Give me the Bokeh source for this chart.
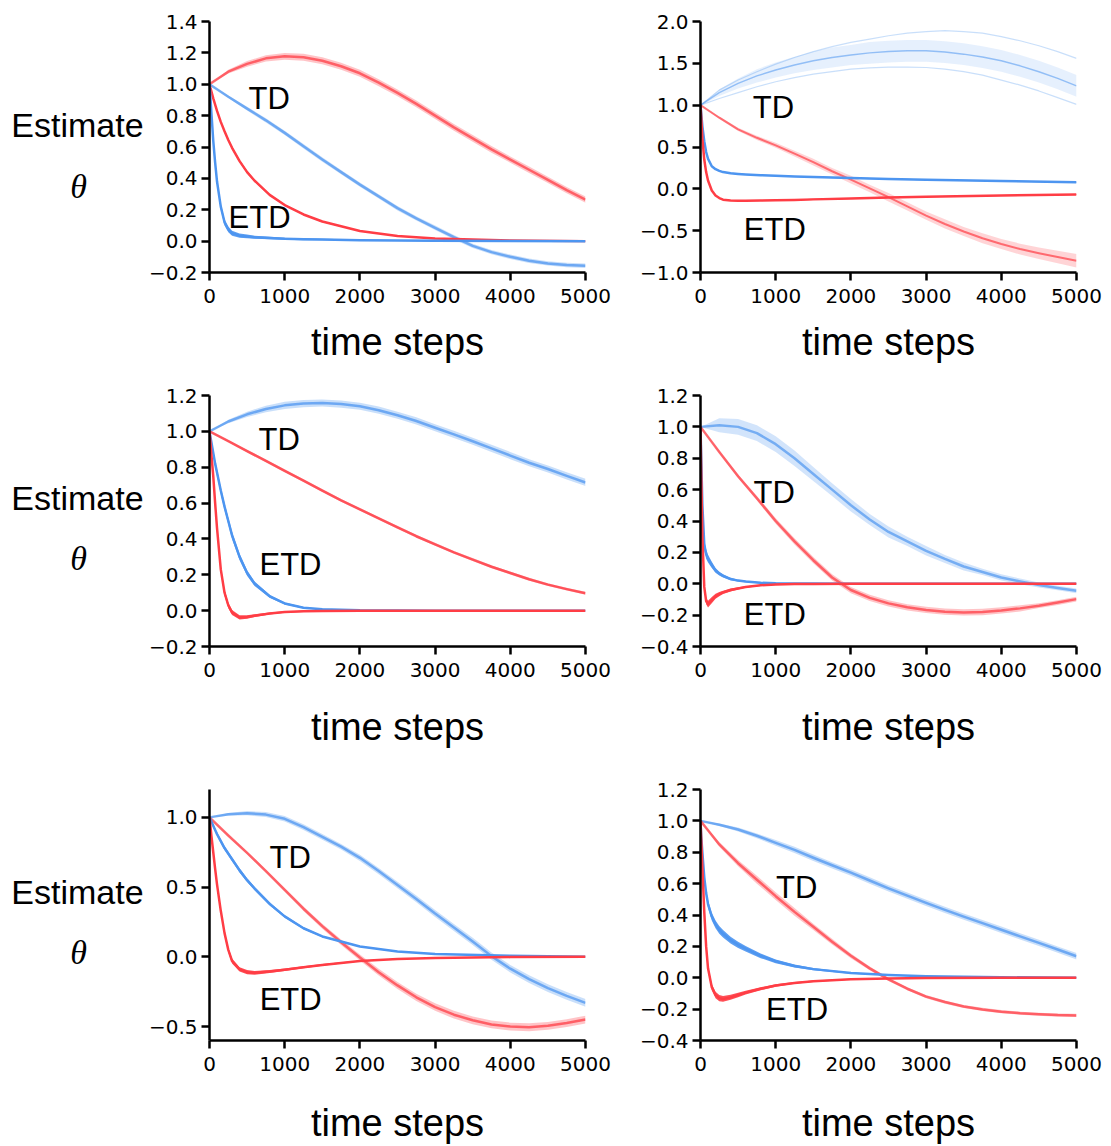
from bokeh.plotting import figure
from bokeh.layouts import column, row
from bokeh.models import Range1d, FixedTicker, CustomJSTickFormatter
from bokeh.embed import file_html
from bokeh.resources import INLINE
from bokeh.core.properties import value

# ---------------------------------------------------------------- data ----
# sample positions (time steps) for the slow TD curves and the fast ETD curves
STEPS_TD = [0, 250, 500, 750, 1000, 1250, 1500, 1750, 2000, 2250, 2500,
            2750, 3000, 3250, 3500, 3750, 4000, 4250, 4500, 4750, 5000]
STEPS_ETD = [0, 10, 25, 50, 75, 100, 150, 200, 250, 300, 400, 500, 600,
             800, 1000, 1250, 1500, 2000, 2500, 3000, 4000, 5000]

X_TICKS = [0, 1000, 2000, 3000, 4000, 5000]

# panel 1 (top left)
P1_TD_RED = [1.00, 1.08, 1.13, 1.165, 1.178, 1.172, 1.15, 1.115, 1.07, 1.01, 0.945,
             0.875, 0.80, 0.725, 0.655, 0.585, 0.52, 0.455, 0.39, 0.325, 0.265]
P1_TD_RED_SPREAD = [0.0, 0.012, 0.018, 0.02, 0.022, 0.022, 0.022, 0.022, 0.022, 0.022, 0.022,
                    0.022, 0.022, 0.022, 0.022, 0.022, 0.02, 0.02, 0.02, 0.02, 0.02]
P1_TD_BLUE = [1.0, 0.92, 0.845, 0.77, 0.69, 0.605, 0.52, 0.44, 0.36, 0.285, 0.21,
              0.145, 0.085, 0.025, -0.03, -0.07, -0.10, -0.125, -0.142, -0.152, -0.157]
P1_TD_BLUE_SPREAD = [0.0, 0.008, 0.012, 0.014, 0.014, 0.014, 0.014, 0.014, 0.014, 0.014, 0.014,
                     0.014, 0.014, 0.014, 0.014, 0.014, 0.014, 0.014, 0.014, 0.014, 0.014]
P1_ETD_RED = [1.0, 0.98, 0.955, 0.91, 0.87, 0.83, 0.76, 0.70, 0.645, 0.595, 0.51,
              0.44, 0.385, 0.295, 0.23, 0.17, 0.125, 0.065, 0.033, 0.016, 0.004, 0.0]
P1_ETD_RED_SPREAD = [0.0, 0.005, 0.008, 0.008, 0.008, 0.008, 0.008, 0.008, 0.008, 0.008, 0.008,
                     0.008, 0.007, 0.006, 0.005, 0.004, 0.004, 0.003, 0.002, 0.002, 0.001, 0.001]
P1_ETD_BLUE = [1.0, 0.93, 0.82, 0.64, 0.50, 0.38, 0.22, 0.12, 0.075, 0.05, 0.035,
               0.03, 0.025, 0.02, 0.015, 0.012, 0.01, 0.006, 0.004, 0.002, 0.001, 0.0]
P1_ETD_BLUE_SPREAD = [0.0, 0.02, 0.02, 0.02, 0.02, 0.02, 0.02, 0.02, 0.018, 0.016, 0.014,
                      0.012, 0.01, 0.008, 0.007, 0.006, 0.005, 0.004, 0.003, 0.002, 0.002, 0.001]

# panel 2 (top right)
P2_TD_BLUE = [1.0, 1.15, 1.26, 1.35, 1.42, 1.48, 1.53, 1.57, 1.60, 1.625, 1.64,
              1.65, 1.65, 1.635, 1.61, 1.575, 1.53, 1.47, 1.40, 1.32, 1.23]
P2_TD_BLUE_SPREAD = [0.0, 0.04, 0.06, 0.08, 0.09, 0.1, 0.11, 0.12, 0.12, 0.13, 0.13,
                     0.13, 0.13, 0.13, 0.13, 0.13, 0.13, 0.13, 0.13, 0.13, 0.13]
P2_TD_BLUE_TOP_RUN = [1.0, 1.18, 1.30, 1.40, 1.49, 1.57, 1.64, 1.70, 1.75, 1.79, 1.83,
                      1.86, 1.88, 1.89, 1.88, 1.86, 1.82, 1.77, 1.71, 1.64, 1.56]
P2_TD_BLUE_LOW_RUN = [1.0, 1.08, 1.15, 1.22, 1.28, 1.33, 1.37, 1.40, 1.43, 1.445, 1.455,
                      1.455, 1.45, 1.43, 1.40, 1.36, 1.30, 1.24, 1.17, 1.09, 1.01]
P2_TD_RED = [1.0, 0.85, 0.71, 0.61, 0.52, 0.42, 0.32, 0.21, 0.11, 0.005, -0.10,
             -0.21, -0.32, -0.42, -0.51, -0.59, -0.66, -0.72, -0.77, -0.815, -0.86]
P2_TD_RED_SPREAD = [0.0, 0.015, 0.02, 0.025, 0.03, 0.035, 0.04, 0.04, 0.045, 0.045, 0.05,
                    0.05, 0.05, 0.055, 0.055, 0.06, 0.06, 0.065, 0.07, 0.075, 0.08]
P2_ETD_RED = [1.0, 0.85, 0.60, 0.35, 0.20, 0.10, -0.02, -0.08, -0.11, -0.13, -0.14,
              -0.143, -0.143, -0.14, -0.137, -0.132, -0.126, -0.115, -0.104, -0.094, -0.079, -0.067]
P2_ETD_RED_SPREAD = [0.0, 0.006, 0.006, 0.006, 0.006, 0.006, 0.006, 0.006, 0.006, 0.006, 0.006,
                     0.006, 0.006, 0.006, 0.006, 0.006, 0.006, 0.006, 0.006, 0.006, 0.006, 0.006]
P2_ETD_BLUE = [1.0, 0.90, 0.75, 0.57, 0.44, 0.36, 0.27, 0.235, 0.215, 0.20, 0.185,
               0.178, 0.172, 0.163, 0.155, 0.148, 0.14, 0.128, 0.118, 0.108, 0.093, 0.08]
P2_ETD_BLUE_SPREAD = [0.0, 0.006, 0.006, 0.006, 0.006, 0.006, 0.006, 0.006, 0.006, 0.006, 0.006,
                      0.006, 0.006, 0.006, 0.006, 0.006, 0.006, 0.006, 0.006, 0.006, 0.006, 0.006]

# panel 3 (middle left)
P3_TD_BLUE = [1.0, 1.055, 1.095, 1.125, 1.145, 1.155, 1.158, 1.152, 1.14, 1.118, 1.09,
              1.058, 1.02, 0.983, 0.945, 0.905, 0.865, 0.825, 0.79, 0.752, 0.715]
P3_TD_BLUE_SPREAD = [0.0, 0.01, 0.015, 0.018, 0.02, 0.02, 0.02, 0.02, 0.02, 0.02, 0.02,
                     0.02, 0.02, 0.02, 0.02, 0.02, 0.02, 0.02, 0.02, 0.02, 0.02]
P3_TD_RED = [1.0, 0.945, 0.89, 0.835, 0.78, 0.725, 0.67, 0.615, 0.565, 0.515, 0.465,
             0.415, 0.37, 0.325, 0.285, 0.245, 0.21, 0.175, 0.145, 0.12, 0.097]
P3_TD_RED_SPREAD = [0.0, 0.005, 0.008, 0.008, 0.008, 0.008, 0.008, 0.008, 0.008, 0.008, 0.008,
                    0.008, 0.008, 0.008, 0.008, 0.008, 0.008, 0.008, 0.008, 0.008, 0.008]
P3_ETD_BLUE = [1.0, 0.975, 0.94, 0.88, 0.82, 0.77, 0.67, 0.58, 0.50, 0.42, 0.30,
               0.21, 0.15, 0.08, 0.04, 0.016, 0.008, 0.002, 0.001, 0.0, 0.0, 0.0]
P3_ETD_BLUE_SPREAD = [0.0, 0.01, 0.015, 0.02, 0.02, 0.02, 0.02, 0.02, 0.02, 0.02, 0.018,
                      0.015, 0.012, 0.008, 0.006, 0.004, 0.003, 0.002, 0.001, 0.001, 0.001, 0.001]
P3_ETD_RED = [1.0, 0.95, 0.87, 0.75, 0.60, 0.46, 0.23, 0.10, 0.03, -0.01, -0.038,
              -0.035, -0.028, -0.016, -0.008, -0.004, -0.002, 0.0, 0.0, 0.0, 0.0, 0.0]
P3_ETD_RED_SPREAD = [0.0, 0.02, 0.02, 0.02, 0.02, 0.02, 0.02, 0.018, 0.016, 0.014, 0.012,
                     0.01, 0.008, 0.006, 0.004, 0.003, 0.002, 0.001, 0.001, 0.001, 0.001, 0.001]

# panel 4 (middle right)
P4_TD_BLUE = [1.0, 1.01, 1.0, 0.96, 0.89, 0.80, 0.70, 0.60, 0.50, 0.41, 0.33,
              0.27, 0.21, 0.158, 0.11, 0.075, 0.04, 0.015, -0.008, -0.027, -0.045]
P4_TD_BLUE_SPREAD = [0.0, 0.045, 0.05, 0.05, 0.05, 0.05, 0.045, 0.04, 0.04, 0.035, 0.035,
                     0.03, 0.03, 0.025, 0.025, 0.02, 0.02, 0.018, 0.016, 0.015, 0.015]
P4_TD_RED = [1.0, 0.84, 0.685, 0.545, 0.40, 0.27, 0.15, 0.04, -0.04, -0.09, -0.125,
             -0.15, -0.167, -0.178, -0.183, -0.18, -0.17, -0.157, -0.14, -0.12, -0.098]
P4_TD_RED_SPREAD = [0.0, 0.008, 0.012, 0.015, 0.018, 0.02, 0.02, 0.02, 0.02, 0.02, 0.02,
                    0.02, 0.02, 0.02, 0.02, 0.02, 0.02, 0.02, 0.015, 0.015, 0.015]
P4_ETD_BLUE = [1.0, 0.8, 0.5, 0.25, 0.19, 0.16, 0.12, 0.085, 0.065, 0.05, 0.03,
               0.02, 0.014, 0.006, 0.003, 0.002, 0.001, 0.0, 0.0, 0.0, 0.0, 0.0]
P4_ETD_BLUE_SPREAD = [0.0, 0.02, 0.03, 0.035, 0.03, 0.025, 0.02, 0.015, 0.012, 0.01, 0.008,
                      0.006, 0.005, 0.004, 0.003, 0.002, 0.001, 0.001, 0.001, 0.001, 0.001, 0.001]
P4_ETD_RED = [1.0, 0.7, 0.3, -0.02, -0.11, -0.13, -0.105, -0.08, -0.066, -0.055, -0.04,
              -0.03, -0.021, -0.01, -0.004, -0.002, -0.001, 0.0, 0.0, 0.0, 0.0, 0.0]
P4_ETD_RED_SPREAD = [0.0, 0.02, 0.02, 0.02, 0.02, 0.022, 0.02, 0.016, 0.013, 0.011, 0.009,
                     0.007, 0.005, 0.004, 0.003, 0.002, 0.001, 0.001, 0.001, 0.001, 0.001, 0.001]

# panel 5 (bottom left)
P5_TD_BLUE = [1.0, 1.022, 1.03, 1.02, 0.99, 0.93, 0.86, 0.79, 0.71, 0.615, 0.515,
              0.415, 0.31, 0.21, 0.11, 0.005, -0.085, -0.16, -0.225, -0.28, -0.33]
P5_TD_BLUE_SPREAD = [0.0, 0.01, 0.015, 0.018, 0.02, 0.02, 0.02, 0.02, 0.022, 0.022, 0.024,
                     0.024, 0.025, 0.025, 0.026, 0.026, 0.027, 0.028, 0.028, 0.028, 0.028]
P5_TD_RED = [1.0, 0.87, 0.745, 0.615, 0.48, 0.345, 0.22, 0.105, -0.005, -0.11, -0.205,
             -0.29, -0.36, -0.415, -0.455, -0.485, -0.50, -0.505, -0.495, -0.475, -0.45]
P5_TD_RED_SPREAD = [0.0, 0.008, 0.01, 0.012, 0.014, 0.016, 0.018, 0.02, 0.022, 0.024, 0.025,
                    0.026, 0.027, 0.028, 0.028, 0.028, 0.028, 0.028, 0.028, 0.028, 0.028]
P5_ETD_BLUE = [1.0, 0.99, 0.97, 0.94, 0.91, 0.88, 0.83, 0.78, 0.74, 0.70, 0.62,
               0.55, 0.49, 0.38, 0.29, 0.205, 0.146, 0.074, 0.038, 0.02, 0.007, 0.0]
P5_ETD_BLUE_SPREAD = [0.0, 0.003, 0.006, 0.01, 0.012, 0.014, 0.015, 0.015, 0.015, 0.015, 0.015,
                      0.014, 0.013, 0.011, 0.009, 0.007, 0.006, 0.004, 0.003, 0.002, 0.001, 0.001]
P5_ETD_RED = [1.0, 0.95, 0.87, 0.75, 0.63, 0.52, 0.33, 0.17, 0.05, -0.03, -0.09,
              -0.11, -0.115, -0.105, -0.092, -0.075, -0.058, -0.03, -0.015, -0.008, -0.002, 0.0]
P5_ETD_RED_SPREAD = [0.0, 0.01, 0.012, 0.014, 0.016, 0.018, 0.018, 0.018, 0.018, 0.018, 0.016,
                     0.015, 0.013, 0.011, 0.009, 0.007, 0.006, 0.004, 0.003, 0.002, 0.001, 0.001]

# panel 6 (bottom right)
P6_TD_BLUE = [1.0, 0.975, 0.945, 0.905, 0.86, 0.815, 0.765, 0.717, 0.67, 0.62, 0.57,
              0.523, 0.477, 0.433, 0.39, 0.348, 0.306, 0.264, 0.222, 0.18, 0.137]
P6_TD_BLUE_SPREAD = [0.0, 0.008, 0.012, 0.015, 0.018, 0.02, 0.02, 0.02, 0.02, 0.02, 0.02,
                     0.02, 0.02, 0.02, 0.02, 0.02, 0.02, 0.02, 0.02, 0.02, 0.02]
P6_TD_RED = [1.0, 0.85, 0.73, 0.625, 0.52, 0.42, 0.325, 0.23, 0.14, 0.06, -0.01,
             -0.07, -0.12, -0.155, -0.183, -0.202, -0.216, -0.226, -0.233, -0.238, -0.24]
P6_TD_RED_SPREAD = [0.0, 0.015, 0.02, 0.025, 0.025, 0.025, 0.02, 0.018, 0.015, 0.012, 0.01,
                    0.01, 0.01, 0.01, 0.01, 0.01, 0.01, 0.01, 0.01, 0.01, 0.01]
P6_ETD_BLUE = [1.0, 0.9, 0.8, 0.64, 0.54, 0.47, 0.39, 0.34, 0.305, 0.28, 0.24,
               0.21, 0.185, 0.14, 0.105, 0.075, 0.055, 0.03, 0.018, 0.01, 0.003, 0.0]
P6_ETD_BLUE_SPREAD = [0.0, 0.02, 0.02, 0.02, 0.022, 0.024, 0.025, 0.025, 0.025, 0.024, 0.022,
                      0.02, 0.018, 0.015, 0.012, 0.009, 0.007, 0.004, 0.003, 0.002, 0.001, 0.001]
P6_ETD_RED = [1.0, 0.88, 0.70, 0.42, 0.20, 0.06, -0.06, -0.11, -0.13, -0.135, -0.125,
              -0.11, -0.095, -0.07, -0.05, -0.033, -0.022, -0.01, -0.005, -0.002, 0.0, 0.0]
P6_ETD_RED_SPREAD = [0.0, 0.02, 0.02, 0.02, 0.02, 0.02, 0.02, 0.02, 0.02, 0.018, 0.016,
                     0.014, 0.012, 0.01, 0.008, 0.006, 0.005, 0.003, 0.002, 0.001, 0.001, 0.001]

# y axis ranges and ticks
P1_Y_RANGE = (-0.2, 1.4)
P2_Y_RANGE = (-1.0, 2.0)
P3_Y_RANGE = (-0.2, 1.2)
P4_Y_RANGE = (-0.4, 1.2)
P5_Y_RANGE = (-0.6, 1.2)
P6_Y_RANGE = (-0.4, 1.2)
P1_Y_TICKS = [-0.2, 0.0, 0.2, 0.4, 0.6, 0.8, 1.0, 1.2, 1.4]
P2_Y_TICKS = [-1.0, -0.5, 0.0, 0.5, 1.0, 1.5, 2.0]
P3_Y_TICKS = [-0.2, 0.0, 0.2, 0.4, 0.6, 0.8, 1.0, 1.2]
P4_Y_TICKS = [-0.4, -0.2, 0.0, 0.2, 0.4, 0.6, 0.8, 1.0, 1.2]
P5_Y_TICKS = [-0.5, 0.0, 0.5, 1.0]
P6_Y_TICKS = [-0.4, -0.2, 0.0, 0.2, 0.4, 0.6, 0.8, 1.0, 1.2]

# curve name positions (time step, value)
P1_TD_POS, P1_ETD_POS = (519, 0.91), (253, 0.15)
P2_TD_POS, P2_ETD_POS = (695, 0.975), (576, -0.485)
P3_TD_POS, P3_ETD_POS = (652, 0.954), (665, 0.255)
P4_TD_POS, P4_ETD_POS = (705, 0.579), (576, -0.196)
P5_TD_POS, P5_ETD_POS = (798, 0.715), (667, -0.304)
P6_TD_POS, P6_ETD_POS = (1005, 0.574), (872, -0.2)

Y_LABEL_TEXT = "Estimate"
Y_LABEL_SYMBOL = "θ"
X_LABEL_TEXT = "time steps"

# ---------------------------------------------------------------- style ----
RED = "#ff3d45"
BLUE = "#4d95f0"
LABEL_FONT = "Liberation Sans"
TICK_FONT = "DejaVu Sans"

SIDE_W = 145                 # strip holding the y label text
LEFT_BORDER = 64
LEFT_W, RIGHT_W = 470, 496   # left / right panel widths
FRAME_W, FRAME_H = 376, 251


def bundle(p, steps, mid, spread, color, band_alpha, line_alpha, line_width):
    lo = [m - s for m, s in zip(mid, spread)]
    hi = [m + s for m, s in zip(mid, spread)]
    p.varea(x=steps, y1=lo, y2=hi, fill_color=color, fill_alpha=band_alpha)
    p.line(steps, mid, line_color=color, line_alpha=line_alpha, line_width=line_width,
           line_join="round")


def ylabel_strip(height, top, bottom, estimate_y, theta_y):
    # the strip's frame lines up with the panel frame next to it; its y
    # coordinate is the pixel row counted from the top of the strip
    s = figure(width=SIDE_W, height=height,
               x_range=Range1d(0, SIDE_W), y_range=Range1d(top + FRAME_H, top),
               output_backend="svg", toolbar_location=None,
               x_axis_location=None, y_axis_location=None,
               min_border_left=0, min_border_right=0,
               min_border_top=top, min_border_bottom=bottom)
    s.outline_line_color = None
    s.grid.visible = False
    s.text(x=[77], y=[estimate_y], text=[Y_LABEL_TEXT], text_align="center",
           text_baseline="middle", text_font=value(LABEL_FONT),
           text_font_size="34px", text_color="black")
    s.text(x=[78], y=[theta_y], text=[Y_LABEL_SYMBOL], text_align="center",
           text_baseline="middle", text_font=value("Liberation Serif"),
           text_font_style="italic", text_font_size="34px", text_color="black")
    return s


def panel(left_col, height, top, bottom, y_range, y_ticks, xlabel_standoff,
          td_pos, etd_pos):
    width = LEFT_W if left_col else RIGHT_W
    b_left = LEFT_BORDER if left_col else 85
    b_right = width - b_left - FRAME_W
    p = figure(width=width, height=height,
               x_range=Range1d(0, 5000), y_range=Range1d(*y_range),
               output_backend="svg", toolbar_location=None,
               min_border_left=b_left, min_border_right=b_right,
               min_border_top=top, min_border_bottom=bottom)
    p.outline_line_color = None
    p.grid.visible = False
    p.background_fill_color = "white"
    p.border_fill_color = "white"

    p.xaxis.ticker = FixedTicker(ticks=X_TICKS)
    p.yaxis.ticker = FixedTicker(ticks=y_ticks)
    p.yaxis.formatter = CustomJSTickFormatter(
        code="return tick.toFixed(1).replace('-', '\\u2212');")
    for ax in (p.xaxis[0], p.yaxis[0]):
        ax.axis_line_width = 2.5
        ax.axis_line_color = "black"
        ax.major_tick_line_width = 2.5
        ax.major_tick_line_color = "black"
        ax.major_tick_in = 0
        ax.major_tick_out = 8
        ax.minor_tick_in = 0
        ax.minor_tick_out = 0
        ax.major_label_text_font = TICK_FONT
        ax.major_label_text_font_size = "20px"
        ax.major_label_text_color = "black"
    p.xaxis.major_label_standoff = 8
    p.yaxis.major_label_standoff = 4
    p.xaxis.axis_label = X_LABEL_TEXT
    p.xaxis.axis_label_text_font = LABEL_FONT
    p.xaxis.axis_label_text_font_size = "38px"
    p.xaxis.axis_label_text_font_style = "normal"
    p.xaxis.axis_label_text_color = "black"
    p.xaxis.axis_label_standoff = xlabel_standoff

    for pos, name in ((td_pos, "TD"), (etd_pos, "ETD")):
        p.text(x=[pos[0]], y=[pos[1]], text=[name], text_align="left",
               text_baseline="middle", text_font=value(LABEL_FONT),
               text_font_size="31px", text_color="black")
    return p


# row 1
p1 = panel(True, 372, 21, 100, P1_Y_RANGE, P1_Y_TICKS, 15, P1_TD_POS, P1_ETD_POS)
bundle(p1, STEPS_TD, P1_TD_RED, P1_TD_RED_SPREAD, RED, 0.3, 0.75, 2.5)
bundle(p1, STEPS_TD, P1_TD_BLUE, P1_TD_BLUE_SPREAD, BLUE, 0.3, 0.75, 2.5)
bundle(p1, STEPS_ETD, P1_ETD_RED, P1_ETD_RED_SPREAD, RED, 0.9, 1.0, 2.5)
bundle(p1, STEPS_ETD, P1_ETD_BLUE, P1_ETD_BLUE_SPREAD, BLUE, 0.9, 1.0, 2.5)

p2 = panel(False, 372, 21, 100, P2_Y_RANGE, P2_Y_TICKS, 15, P2_TD_POS, P2_ETD_POS)
bundle(p2, STEPS_TD, P2_TD_BLUE, P2_TD_BLUE_SPREAD, BLUE, 0.14, 0.55, 1.5)
p2.line(STEPS_TD, P2_TD_BLUE_TOP_RUN, line_color=BLUE, line_alpha=0.3, line_width=1.2)
p2.line(STEPS_TD, P2_TD_BLUE_LOW_RUN, line_color=BLUE, line_alpha=0.3, line_width=1.2)
bundle(p2, STEPS_TD, P2_TD_RED, P2_TD_RED_SPREAD, RED, 0.22, 0.7, 2)
bundle(p2, STEPS_ETD, P2_ETD_BLUE, P2_ETD_BLUE_SPREAD, BLUE, 0.9, 1.0, 2.5)
bundle(p2, STEPS_ETD, P2_ETD_RED, P2_ETD_RED_SPREAD, RED, 0.9, 1.0, 2.5)

# row 2
p3 = panel(True, 392, 23, 118, P3_Y_RANGE, P3_Y_TICKS, 26, P3_TD_POS, P3_ETD_POS)
bundle(p3, STEPS_TD, P3_TD_BLUE, P3_TD_BLUE_SPREAD, BLUE, 0.3, 0.75, 2.5)
bundle(p3, STEPS_TD, P3_TD_RED, P3_TD_RED_SPREAD, RED, 0.3, 0.85, 2.5)
bundle(p3, STEPS_ETD, P3_ETD_BLUE, P3_ETD_BLUE_SPREAD, BLUE, 0.9, 1.0, 2.5)
bundle(p3, STEPS_ETD, P3_ETD_RED, P3_ETD_RED_SPREAD, RED, 0.9, 1.0, 2.5)

p4 = panel(False, 392, 23, 118, P4_Y_RANGE, P4_Y_TICKS, 26, P4_TD_POS, P4_ETD_POS)
bundle(p4, STEPS_TD, P4_TD_BLUE, P4_TD_BLUE_SPREAD, BLUE, 0.25, 0.7, 2.5)
bundle(p4, STEPS_TD, P4_TD_RED, P4_TD_RED_SPREAD, RED, 0.3, 0.75, 2.5)
bundle(p4, STEPS_ETD, P4_ETD_BLUE, P4_ETD_BLUE_SPREAD, BLUE, 0.9, 1.0, 2.5)
bundle(p4, STEPS_ETD, P4_ETD_RED, P4_ETD_RED_SPREAD, RED, 0.9, 1.0, 2.5)

# row 3
p5 = panel(True, 382, 25, 106, P5_Y_RANGE, P5_Y_TICKS, 28, P5_TD_POS, P5_ETD_POS)
bundle(p5, STEPS_TD, P5_TD_BLUE, P5_TD_BLUE_SPREAD, BLUE, 0.3, 0.75, 2.5)
bundle(p5, STEPS_TD, P5_TD_RED, P5_TD_RED_SPREAD, RED, 0.3, 0.75, 2.5)
bundle(p5, STEPS_ETD, P5_ETD_BLUE, P5_ETD_BLUE_SPREAD, BLUE, 0.9, 1.0, 2.5)
bundle(p5, STEPS_ETD, P5_ETD_RED, P5_ETD_RED_SPREAD, RED, 0.9, 1.0, 2.5)

p6 = panel(False, 382, 25, 106, P6_Y_RANGE, P6_Y_TICKS, 28, P6_TD_POS, P6_ETD_POS)
bundle(p6, STEPS_TD, P6_TD_BLUE, P6_TD_BLUE_SPREAD, BLUE, 0.3, 0.75, 2.5)
bundle(p6, STEPS_TD, P6_TD_RED, P6_TD_RED_SPREAD, RED, 0.3, 0.75, 2.5)
bundle(p6, STEPS_ETD, P6_ETD_BLUE, P6_ETD_BLUE_SPREAD, BLUE, 0.9, 1.0, 2.5)
bundle(p6, STEPS_ETD, P6_ETD_RED, P6_ETD_RED_SPREAD, RED, 0.9, 1.0, 2.5)

s1 = ylabel_strip(372, 21, 100, 124, 186)
s2 = ylabel_strip(392, 23, 118, 125, 186)
s3 = ylabel_strip(382, 25, 106, 127, 188)

layout = column(row(s1, p1, p2), row(s2, p3, p4), row(s3, p5, p6))

open("out.html", "w").write(file_html(layout, INLINE))
